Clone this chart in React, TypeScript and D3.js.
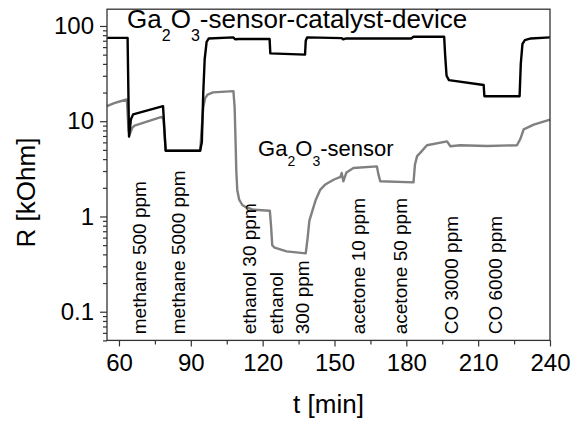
import { useEffect, useRef } from "react";
import * as d3 from "d3";

// resistance (kOhm) vs time (min)
const catalystDevice: [number, number][] = [
  [55, 75], [63.6, 75], [64.2, 6.9], [65.0, 10.5], [65.9, 11.8], [78.4, 14.4],
  [79.5, 4.9], [93.9, 4.9], [94.6, 6], [95.2, 20], [95.8, 45], [96.6, 68],
  [97.5, 74], [107.7, 76], [108.5, 72.5], [110, 73], [122.9, 73], [123.2, 51.6],
  [137.7, 50], [138.0, 70], [138.6, 76], [153, 74.5], [153.6, 72.5], [155, 74],
  [182, 74], [183, 77], [184, 77], [195.8, 77], [196.2, 50], [196.8, 30],
  [197.8, 27], [212.3, 24], [212.6, 18.3], [227.3, 18.3], [227.8, 40],
  [228.5, 65], [229.5, 71], [232, 74], [240, 76],
];

const sensor: [number, number][] = [
  [55, 14.4], [58, 15.5], [61, 16.3], [63.3, 16.9], [64.0, 8], [64.4, 7.2],
  [65.5, 8.5], [66.5, 9.0], [77.8, 11.1], [78.6, 10.5], [79.5, 4.9], [93.9, 4.9],
  [94.5, 8], [95.2, 14], [96.0, 17.5], [97, 19], [99.3, 20.1], [107.8, 20.7],
  [108.3, 14], [108.7, 6], [109.0, 3], [109.4, 1.9], [110.2, 1.5], [111.5, 1.32],
  [113, 1.25], [116, 1.18], [123.0, 1.15], [123.5, 0.8], [124, 0.5], [125, 0.47],
  [130, 0.43], [138.0, 0.41], [138.8, 0.6], [139.5, 0.9], [140.5, 1.09],
  [142.2, 1.5], [144, 1.9], [146, 2.15], [149.6, 2.43], [152.5, 2.6], [153, 2.86],
  [153.7, 2.34], [155, 2.9], [157.9, 3.23], [167.7, 3.36], [168.3, 2.8],
  [169.1, 2.34], [183, 2.28], [183.6, 3.5], [184.5, 4.3], [185.8, 4.65],
  [188.6, 5.59], [197, 6.15], [198.4, 5.46], [202.5, 5.6], [213.7, 5.5],
  [226.2, 5.6], [227.6, 6.5], [229, 8.2], [233.2, 9.2], [240, 10.4],
];

// gas pulse annotations: text, time of baseline
const gasLabels: [string, number][] = [
  ["methane 500 ppm", 71.1],
  ["methane 5000 ppm", 87.4],
  ["ethanol 30 ppm", 117.3],
  ["ethanol", 128.5],
  ["300 ppm", 139.2],
  ["acetone 10 ppm", 162.8],
  ["acetone 50 ppm", 180.2],
  ["CO 3000 ppm", 201.7],
  ["CO 6000 ppm", 219.9],
];

const xMajorTicks = [60, 90, 120, 150, 180, 210, 240];
const xMinorTicks = [75, 105, 135, 165, 195, 225];
const yMajorTicks = [0.1, 1, 10, 100];
const yTickLabels = ["0.1", "1", "10", "100"];

const FONT = "'Liberation Sans', Arial, sans-serif";

const App = () => {
  const ref = useRef<SVGSVGElement | null>(null);

  useEffect(() => {
    if (!ref.current) return;
    const svg = d3.select(ref.current);
    svg.selectAll("*").remove();

    const left = 107, right = 550, top = 9.2, bottom = 340.4;
    const x = d3.scaleLinear().domain([55, 240]).range([left, right]);
    const y = d3.scaleLog().domain([0.05, 150]).range([bottom, top]);

    const yMinor: number[] = [];
    [0.01, 0.1, 1, 10].forEach((d) => {
      for (let k = 2; k <= 9; k++) {
        const v = k * d;
        if (v >= 0.05 && v <= 150) yMinor.push(v);
      }
    });

    const frameColor = "#333";

    // y axis
    const yAx = svg.append("g").attr("transform", `translate(${left},0)`);
    yAx
      .call(
        d3.axisLeft(y).tickValues(yMinor).tickSize(4).tickFormat(() => "")
      )
      .call((g) => g.select(".domain").remove());
    const yAxMaj = svg.append("g").attr("transform", `translate(${left},0)`);
    yAxMaj
      .call(
        d3
          .axisLeft(y)
          .tickValues(yMajorTicks)
          .tickSize(7)
          .tickPadding(6)
          .tickFormat((_, i) => yTickLabels[i])
      )
      .call((g) => g.select(".domain").remove());
    yAxMaj.selectAll("text").attr("font-size", 24).attr("font-family", FONT).attr("fill", "#000");
    svg.selectAll("line").attr("stroke", frameColor).attr("stroke-width", 1.2);

    // x axis
    const xAx = svg.append("g").attr("transform", `translate(0,${bottom})`);
    xAx
      .call(d3.axisBottom(x).tickValues(xMinorTicks).tickSize(4).tickFormat(() => ""))
      .call((g) => g.select(".domain").remove());
    const xAxMaj = svg.append("g").attr("transform", `translate(0,${bottom})`);
    xAxMaj
      .call(d3.axisBottom(x).tickValues(xMajorTicks).tickSize(6).tickPadding(8).tickFormat(d3.format("d")))
      .call((g) => g.select(".domain").remove());
    xAxMaj.selectAll("text").attr("font-size", 24).attr("font-family", FONT).attr("fill", "#000");
    svg.selectAll("line").attr("stroke", frameColor).attr("stroke-width", 1.2);

    // lines
    const line = d3
      .line<[number, number]>()
      .x((d) => x(d[0]))
      .y((d) => y(d[1]))
      .curve(d3.curveLinear);

    const plot = svg.append("g");
    plot
      .append("path")
      .datum(sensor)
      .attr("fill", "none")
      .attr("stroke", "#808080")
      .attr("stroke-width", 2.4)
      .attr("stroke-linejoin", "round")
      .attr("d", line);
    plot
      .append("path")
      .datum(catalystDevice)
      .attr("fill", "none")
      .attr("stroke", "#000")
      .attr("stroke-width", 2.4)
      .attr("stroke-linejoin", "round")
      .attr("d", line);

    // frame
    svg
      .append("rect")
      .attr("x", left)
      .attr("y", top)
      .attr("width", right - left)
      .attr("height", bottom - top)
      .attr("fill", "none")
      .attr("stroke", frameColor)
      .attr("stroke-width", 1.3);

    // gas labels
    const yStart = y(0.058);
    svg
      .append("g")
      .selectAll("text")
      .data(gasLabels)
      .enter()
      .append("text")
      .attr("transform", (d) => `translate(${x(d[1])},${yStart}) rotate(-90)`)
      .attr("font-size", 19)
      .attr("font-family", FONT)
      .attr("fill", "#000")
      .text((d) => d[0]);

    // series labels
    const title = svg
      .append("text")
      .attr("x", x(63.4))
      .attr("y", y(95.3))
      .attr("font-size", 26)
      .attr("font-family", FONT)
      .attr("fill", "#000");
    title.append("tspan").text("Ga");
    title.append("tspan").attr("dy", 13).attr("font-size", 16).text("2");
    title.append("tspan").attr("dy", -13).text("O");
    title.append("tspan").attr("dy", 13).attr("font-size", 16).text("3");
    title.append("tspan").attr("dy", -13).text("-sensor-catalyst-device");

    const sens = svg
      .append("text")
      .attr("x", x(118.1))
      .attr("y", y(4.27))
      .attr("font-size", 22)
      .attr("font-family", FONT)
      .attr("fill", "#000");
    sens.append("tspan").text("Ga");
    sens.append("tspan").attr("dy", 10).attr("font-size", 14).text("2");
    sens.append("tspan").attr("dy", -10).text("O");
    sens.append("tspan").attr("dy", 10).attr("font-size", 14).text("3");
    sens.append("tspan").attr("dy", -10).text("-sensor");

    // axis titles
    svg
      .append("text")
      .attr("x", (left + right) / 2)
      .attr("y", 413)
      .attr("text-anchor", "middle")
      .attr("font-size", 26)
      .attr("font-family", FONT)
      .attr("fill", "#000")
      .text("t [min]");
    svg
      .append("text")
      .attr("transform", `translate(35,192.5) rotate(-90)`)
      .attr("text-anchor", "middle")
      .attr("font-size", 26)
      .attr("font-family", FONT)
      .attr("fill", "#000")
      .text("R [kOhm]");
  }, []);

  return (
    <svg
      ref={ref}
      width={573}
      height={422}
      style={{ position: "absolute", left: 0, top: 0, background: "#fff" }}
    />
  );
};

export default App;
